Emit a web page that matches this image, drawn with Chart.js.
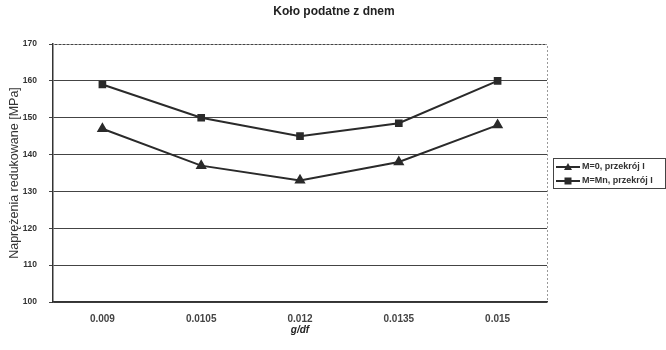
<!DOCTYPE html>
<html>
<head>
<meta charset="utf-8">
<script src="https://cdn.jsdelivr.net/npm/chart.js@4.4.0/dist/chart.umd.min.js"></script>
<style>
  html, body { margin: 0; padding: 0; background: #fff; }
  #wrap { width: 666px; height: 350px; position: relative; }
</style>
</head>
<body>
<div id="wrap"><canvas id="chart"></canvas></div>
<script>
// data
const categories = ['0.009', '0.0105', '0.012', '0.0135', '0.015'];
const seriesM0 = [147, 137, 133, 138, 148];
const seriesMn = [159, 150, 145, 148.5, 160];
const labelM0 = 'M=0, przekrój I';
const labelMn = 'M=Mn, przekrój I';
const chartTitle = 'Koło podatne z dnem';

const FONT = "'Liberation Sans', Arial, sans-serif";
const INK = '#2a2a2a';

// title over the whole page, dotted top/right frame, boxed legend on the right
const framePlugin = {
  id: 'frame',
  afterDraw(chart) {
    const ctx = chart.ctx;
    const a = chart.chartArea;
    ctx.save();

    ctx.fillStyle = '#222';
    ctx.font = 'bold 12px ' + FONT;
    ctx.textAlign = 'center';
    ctx.textBaseline = 'middle';
    ctx.fillText(chartTitle, 334, 12);
    ctx.textAlign = 'left';

    ctx.strokeStyle = '#999';
    ctx.lineWidth = 1;
    ctx.setLineDash([2, 2]);
    ctx.beginPath();
    ctx.moveTo(a.left, a.top + 0.5);
    ctx.lineTo(a.right + 0.5, a.top + 0.5);
    ctx.lineTo(a.right + 0.5, a.bottom);
    ctx.stroke();
    ctx.setLineDash([]);

    // legend
    const lx = 553, ly = 158, lw = 112, lh = 30;
    ctx.strokeStyle = '#444';
    ctx.strokeRect(lx + 0.5, ly + 0.5, lw, lh);
    ctx.font = 'bold 9px ' + FONT;
    ctx.textBaseline = 'middle';
    chart.data.datasets.forEach((ds, i) => {
      const y = ly + 9 + i * 14;
      ctx.strokeStyle = INK;
      ctx.lineWidth = 2;
      ctx.beginPath();
      ctx.moveTo(lx + 3, y);
      ctx.lineTo(lx + 27, y);
      ctx.stroke();
      ctx.fillStyle = INK;
      const cx = lx + 15;
      if (ds.pointStyle === 'triangle') {
        ctx.beginPath();
        ctx.moveTo(cx, y - 4);
        ctx.lineTo(cx + 4, y + 3);
        ctx.lineTo(cx - 4, y + 3);
        ctx.closePath();
        ctx.fill();
      } else {
        ctx.fillRect(cx - 3.5, y - 3.5, 7, 7);
      }
      ctx.fillStyle = '#333';
      ctx.fillText(ds.label, lx + 29, y);
    });
    ctx.restore();
  }
};

new Chart(document.getElementById('chart'), {
  type: 'line',
  data: {
    labels: categories,
    datasets: [
      {
        label: labelM0,
        data: seriesM0,
        borderColor: INK,
        backgroundColor: INK,
        borderWidth: 2,
        pointStyle: 'triangle',
        pointRadius: 4.5,
        tension: 0
      },
      {
        label: labelMn,
        data: seriesMn,
        borderColor: INK,
        backgroundColor: INK,
        borderWidth: 2,
        pointStyle: 'rect',
        pointRadius: 4,
        tension: 0
      }
    ]
  },
  options: {
    responsive: true,
    maintainAspectRatio: false,
    animation: false,
    layout: { padding: { left: 0, right: 119, top: 44, bottom: 0 } },
    plugins: {
      legend: { display: false },
      tooltip: { enabled: false },
      title: { display: false }
    },
    scales: {
      x: {
        offset: true,
        grid: { display: false, drawTicks: false },
        border: { color: '#333', width: 1.5 },
        ticks: {
          color: '#444',
          font: { family: FONT, size: 10, weight: 'bold' },
          padding: 11
        },
        title: {
          display: true,
          text: 'g/df',
          color: '#222',
          font: { family: FONT, size: 10, weight: 'bold', style: 'italic' },
          padding: { top: 0, bottom: 14 }
        },
        afterFit(scale) { scale.height = 48; }
      },
      y: {
        min: 100,
        max: 170,
        ticks: {
          stepSize: 10,
          color: '#333',
          font: { family: FONT, size: 8.5, weight: 'bold' },
          padding: 12
        },
        grid: { color: '#444', lineWidth: 1, tickLength: 4, tickColor: '#444' },
        border: { color: '#333', width: 1.5 },
        title: {
          display: true,
          text: 'Naprężenia redukowane [MPa]',
          color: '#333',
          font: { family: FONT, size: 12.5 },
          padding: { top: 7.5, bottom: 0 }
        },
        afterFit(scale) { scale.width = 53; }
      }
    }
  },
  plugins: [framePlugin]
});
</script>
</body>
</html>
